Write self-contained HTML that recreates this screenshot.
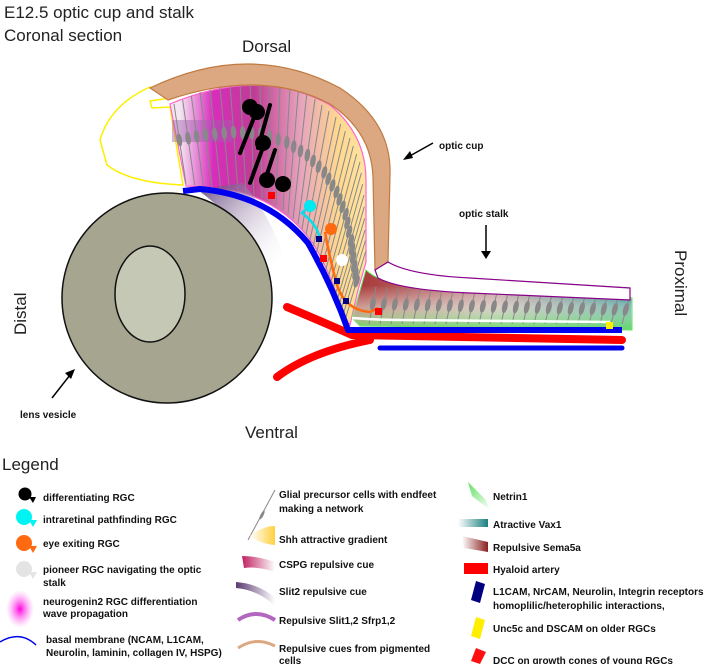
<!DOCTYPE html>
<html><head><meta charset="utf-8"><style>
html,body{margin:0;padding:0;background:#fff}
svg{display:block}
text{font-family:"Liberation Sans",Arial,sans-serif}
.l{font-size:10px;font-weight:bold;fill:#111}
</style></head><body>
<svg width="712" height="664" viewBox="0 0 712 664" xmlns="http://www.w3.org/2000/svg">
<defs>
<linearGradient id="ret" x1="180" y1="0" x2="366" y2="0" gradientUnits="userSpaceOnUse">
<stop offset="0" stop-color="#f4e6f2"/><stop offset="0.18" stop-color="#d82cbc"/><stop offset="0.4" stop-color="#c03c96"/><stop offset="0.65" stop-color="#e6a4bc"/><stop offset="0.85" stop-color="#ffd890"/><stop offset="1" stop-color="#ffe4a0"/></linearGradient>
<linearGradient id="stk" x1="360" y1="0" x2="632" y2="0" gradientUnits="userSpaceOnUse">
<stop offset="0" stop-color="#a83838"/><stop offset="0.5" stop-color="#c8a0a0"/><stop offset="1" stop-color="#1c7c80"/></linearGradient>
<linearGradient id="stkv" x1="0" y1="285" x2="0" y2="328" gradientUnits="userSpaceOnUse">
<stop offset="0" stop-color="#fff" stop-opacity="0"/><stop offset="0.5" stop-color="#f0fff0" stop-opacity="0.5"/><stop offset="1" stop-color="#70e070" stop-opacity="0.9"/></linearGradient>
<linearGradient id="slit" x1="205" y1="190" x2="285" y2="265" gradientUnits="userSpaceOnUse">
<stop offset="0" stop-color="#6a4a80"/><stop offset="1" stop-color="#fff" stop-opacity="0"/></linearGradient>
<radialGradient id="ngn" cx="0.5" cy="0.5" r="0.5"><stop offset="0" stop-color="#ff00e0"/><stop offset="1" stop-color="#ff80f0" stop-opacity="0"/></radialGradient>
<linearGradient id="vax" x1="0" x2="1"><stop offset="0" stop-color="#fff"/><stop offset="1" stop-color="#1a8080"/></linearGradient>
<linearGradient id="sema" x1="0" x2="1"><stop offset="0" stop-color="#fff"/><stop offset="1" stop-color="#8a2020"/></linearGradient>
<linearGradient id="net" x1="0" x2="1" y1="0" y2="1"><stop offset="0" stop-color="#60e060"/><stop offset="1" stop-color="#fff"/></linearGradient>
<linearGradient id="shh" x1="0" x2="1"><stop offset="0" stop-color="#fff"/><stop offset="1" stop-color="#ffd040"/></linearGradient>
<linearGradient id="cspg" x1="0" x2="1"><stop offset="0" stop-color="#c02060"/><stop offset="1" stop-color="#fff"/></linearGradient>
<linearGradient id="sl2" x1="0" x2="1"><stop offset="0" stop-color="#5a3a70"/><stop offset="1" stop-color="#fff"/></linearGradient>
</defs>

<text x="4" y="18" font-size="17" fill="#222">E12.5 optic cup and stalk</text>
<text x="4" y="41" font-size="17" fill="#222">Coronal section</text>
<text x="242" y="52" font-size="17" fill="#222">Dorsal</text>
<text x="245" y="438" font-size="17" fill="#222">Ventral</text>
<text transform="translate(26,335) rotate(-90)" font-size="17" fill="#222">Distal</text>
<text transform="translate(675,250) rotate(90)" font-size="17" fill="#222">Proximal</text>

<path d="M150,87 Q110,105 100,140 L107,165 Q130,183 183,185 L170,107 L152,108 L150,101 L170,98 L155,90 Z" fill="#fff" stroke="#ffee00" stroke-width="1.5"/>

<path d="M170,104 Q260,66 330,105 Q366,135 366,180 L366,262 L358,290 L350,325 L343,315 Q330,270 312,242 Q285,205 240,192 Q215,187 186,186 Z" fill="url(#ret)" stroke="#ff66cc" stroke-width="1.2"/>
<rect x="172" y="120" width="60" height="22" fill="#a060b0" opacity="0.45"/>
<path d="M366,270 Q380,284 420,287 L632,298 L632,330 L360,326 L352,318 Z" fill="url(#stk)" stroke="#60e060" stroke-width="1"/>
<path d="M366,270 Q380,284 420,287 L632,298 L632,330 L360,326 L352,318 Z" fill="url(#stkv)"/>
<g id="cells" stroke="#888" fill="#888" stroke-width="1"></g>

<path d="M150,88 Q250,40 340,88 Q392,122 390,175 L388,262 L375,270 L373,178 Q372,132 330,104 Q262,68 168,100 Z" fill="#dba882" stroke="#c07a40" stroke-width="1.2"/>
<path d="M375,270 L388,262 Q410,275 470,278 L630,288 L630,300 L470,293 Q400,290 378,278 Z" fill="#fff" stroke="#880088" stroke-width="1.2"/>

<path d="M198,190 L243,183 Q270,215 285,260 L268,272 Q245,225 198,190 Z" fill="url(#slit)" opacity="0.85"/>

<circle cx="167" cy="298" r="105" fill="#a6a690" stroke="#111" stroke-width="1.5"/>
<ellipse cx="150" cy="294" rx="35" ry="48" fill="#c4c8b4" stroke="#111" stroke-width="1.5"/>

<path d="M287,307 Q330,325 352,335 L622,340" fill="none" stroke="#ff0000" stroke-width="8" stroke-linecap="round"/>
<path d="M277,377 Q310,352 370,340" fill="none" stroke="#ff0000" stroke-width="8" stroke-linecap="round"/>
<path d="M183,191 L200,189 Q268,195 308,243 Q332,285 348,330 L622,330" fill="none" stroke="#0000ee" stroke-width="6" stroke-linejoin="round"/>
<line x1="380" y1="348" x2="622" y2="348" stroke="#0000ee" stroke-width="5" stroke-linecap="round"/>
<path d="M352,318 Q380,320 400,320 L610,322" fill="none" stroke="#fff" stroke-width="2.5"/>

<g fill="#000" stroke="#000" stroke-width="4" stroke-linecap="round">
<circle cx="250" cy="107" r="6"/><circle cx="257" cy="112" r="6"/><circle cx="263" cy="143" r="6"/><circle cx="267" cy="180" r="6"/><circle cx="283" cy="184" r="6"/>
<line x1="240" y1="153" x2="255" y2="115" fill="none"/><line x1="270" y1="105" x2="258" y2="148" fill="none"/><line x1="250" y1="183" x2="262" y2="150" fill="none"/><line x1="275" y1="150" x2="265" y2="180" fill="none"/>
</g>
<circle cx="310" cy="206" r="6" fill="#00e8f0"/><path d="M305,210 L302,213 Q318,225 320,240" stroke="#00e0f0" stroke-width="2.5" fill="none"/>
<circle cx="331" cy="229" r="6" fill="#ff6a10"/><path d="M325,232 Q330,260 337,285 Q345,310 370,312 L378,308" stroke="#ff6a10" stroke-width="2.5" fill="none"/>
<circle cx="342" cy="260" r="6" fill="#fff"/>
<g fill="#ff0000"><rect x="268" y="192" width="7" height="7"/><rect x="320" y="255" width="7" height="7"/><rect x="375" y="308" width="7" height="7"/></g>
<g fill="#000080"><rect x="316" y="236" width="6" height="6"/><rect x="334" y="278" width="6" height="6"/><rect x="343" y="298" width="6" height="6"/></g>
<rect x="606" y="322" width="7" height="7" fill="#ffee00"/>

<text x="439" y="149" class="l">optic cup</text>
<path d="M433,143 L408,157" stroke="#000" stroke-width="1.5"/><path d="M403,160 L410,151 L413,158 Z" fill="#000"/>
<text x="459" y="217" class="l">optic stalk</text>
<path d="M486,225 L486,252" stroke="#000" stroke-width="1.5"/><path d="M481,251 L491,251 L486,259 Z" fill="#000"/>
<text x="20" y="418" class="l">lens vesicle</text>
<path d="M52,398 L70,375" stroke="#000" stroke-width="1.5"/><path d="M75,369 L65,373 L71,379 Z" fill="#000"/>

<text x="2" y="470" font-size="17" fill="#222">Legend</text>
<g>
<circle cx="25" cy="494" r="6.5" fill="#000"/><path d="M29,497 L36,497 L33,503 Z" fill="#000"/>
<circle cx="24" cy="517" r="8" fill="#00f4f4"/><path d="M29,520 L37,520 L33,527 Z" fill="#00f4f4"/>
<circle cx="24" cy="543" r="8" fill="#ff6a10"/><path d="M29,546 L37,546 L33,553 Z" fill="#ff6a10"/>
<circle cx="24" cy="569" r="8" fill="#e4e4e4"/><path d="M29,572 L37,572 L33,579 Z" fill="#e4e4e4"/>
<ellipse cx="20" cy="609" rx="14" ry="19" fill="url(#ngn)"/>
<path d="M0,642 Q20,630 36,645" fill="none" stroke="#0000ee" stroke-width="1.5"/>
</g>
<text x="43" y="501" class="l">differentiating RGC</text>
<text x="43" y="523" class="l">intraretinal pathfinding RGC</text>
<text x="43" y="547" class="l">eye exiting RGC</text>
<text x="43" y="573" class="l">pioneer RGC navigating the optic</text>
<text x="43" y="586" class="l">stalk</text>
<text x="43" y="605" class="l">neurogenin2 RGC differentiation</text>
<text x="43" y="617" class="l">wave propagation</text>
<text x="46" y="643" class="l">basal  membrane (NCAM, L1CAM,</text>
<text x="46" y="656" class="l">Neurolin, laminin, collagen IV, HSPG)</text>

<g>
<line x1="248" y1="540" x2="275" y2="490" stroke="#888" stroke-width="1"/><ellipse cx="262" cy="515" rx="1.5" ry="5" transform="rotate(28 262 515)" fill="#888"/>
<path d="M250,536 Q262,526 275,526 L275,545 Q260,544 250,536 Z" fill="url(#shh)"/>
<path d="M242,556 Q258,556 275,562 L275,572 Q258,566 244,568 Z" fill="url(#cspg)"/>
<path d="M236,582 Q260,584 275,598 L275,606 Q258,590 236,588 Z" fill="url(#sl2)"/>
<path d="M238,620 Q256,608 275,620" fill="none" stroke="#a040b0" stroke-width="4" opacity="0.8"/>
<path d="M238,648 Q256,636 275,646" fill="none" stroke="#dba882" stroke-width="3"/>
</g>
<text x="279" y="498" class="l">Glial precursor cells with endfeet</text>
<text x="279" y="512" class="l">making a network</text>
<text x="279" y="543" class="l">Shh attractive gradient</text>
<text x="279" y="568" class="l">CSPG repulsive cue</text>
<text x="279" y="595" class="l">Slit2 repulsive cue</text>
<text x="279" y="624" class="l">Repulsive Slit1,2 Sfrp1,2</text>
<text x="279" y="652" class="l">Repulsive cues from pigmented</text>
<text x="279" y="664" class="l">cells</text>

<g>
<path d="M468,482 L486,500 L490,510 L472,496 Z" fill="url(#net)"/>
<rect x="458" y="519" width="30" height="8" fill="url(#vax)"/>
<path d="M462,536 L488,542 L488,552 L464,548 Z" fill="url(#sema)"/>
<rect x="464" y="563" width="24" height="11" fill="#ff0000"/>
<path d="M476,581 L485,584 L480,603 L471,600 Z" fill="#000080"/>
<path d="M476,617 L485,620 L480,639 L471,636 Z" fill="#ffee00"/>
<path d="M476,648 L486,652 L480,664 L471,661 Z" fill="#ff1010"/>
</g>
<text x="493" y="500" class="l">Netrin1</text>
<text x="493" y="528" class="l">Atractive Vax1</text>
<text x="493" y="551" class="l">Repulsive Sema5a</text>
<text x="493" y="573" class="l">Hyaloid artery</text>
<text x="493" y="595" class="l">L1CAM, NrCAM, Neurolin, Integrin receptors</text>
<text x="493" y="609" class="l">homoplilic/heterophilic interactions,</text>
<text x="493" y="632" class="l">Unc5c and DSCAM on older RGCs</text>
<text x="493" y="664" class="l">DCC on growth cones of young RGCs</text>
</svg>
<script>
(function(){
var g=document.getElementById('cells'),ns='http://www.w3.org/2000/svg';
var O=[[174,104],[200,92],[230,84],[260,81],[290,87],[315,99],[336,117],[350,138],[360,162],[364,195],[365,230],[366,262]];
var I=[[186,184],[212,187],[238,191],[262,198],[283,210],[298,224],[310,240],[320,258],[328,278],[335,296],[341,310],[348,322]];
function lerp(a,b,t){return a+(b-a)*t}
function add(x1,y1,x2,y2){var l=document.createElementNS(ns,'line');l.setAttribute('x1',x1);l.setAttribute('y1',y1);l.setAttribute('x2',x2);l.setAttribute('y2',y2);g.appendChild(l);
var e=document.createElementNS(ns,'ellipse');var cx=lerp(x1,x2,0.45),cy=lerp(y1,y2,0.45);var ang=Math.atan2(y2-y1,x2-x1)*180/Math.PI;
e.setAttribute('cx',cx);e.setAttribute('cy',cy);e.setAttribute('rx',6);e.setAttribute('ry',2.2);e.setAttribute('transform','rotate('+ang+' '+cx+' '+cy+')');g.appendChild(e);}
for(var i=0;i<O.length-1;i++){for(var k=0;k<3;k++){var t=k/3;
add(lerp(O[i][0],O[i+1][0],t),lerp(O[i][1],O[i+1][1],t),lerp(I[i][0],I[i+1][0],t),lerp(I[i][1],I[i+1][1],t));}}
for(var x=372;x<630;x+=11){var yt=lerp(287,298,(x-372)/258);add(x+4,yt,x-3,324);}
})();
</script>
</body></html>
